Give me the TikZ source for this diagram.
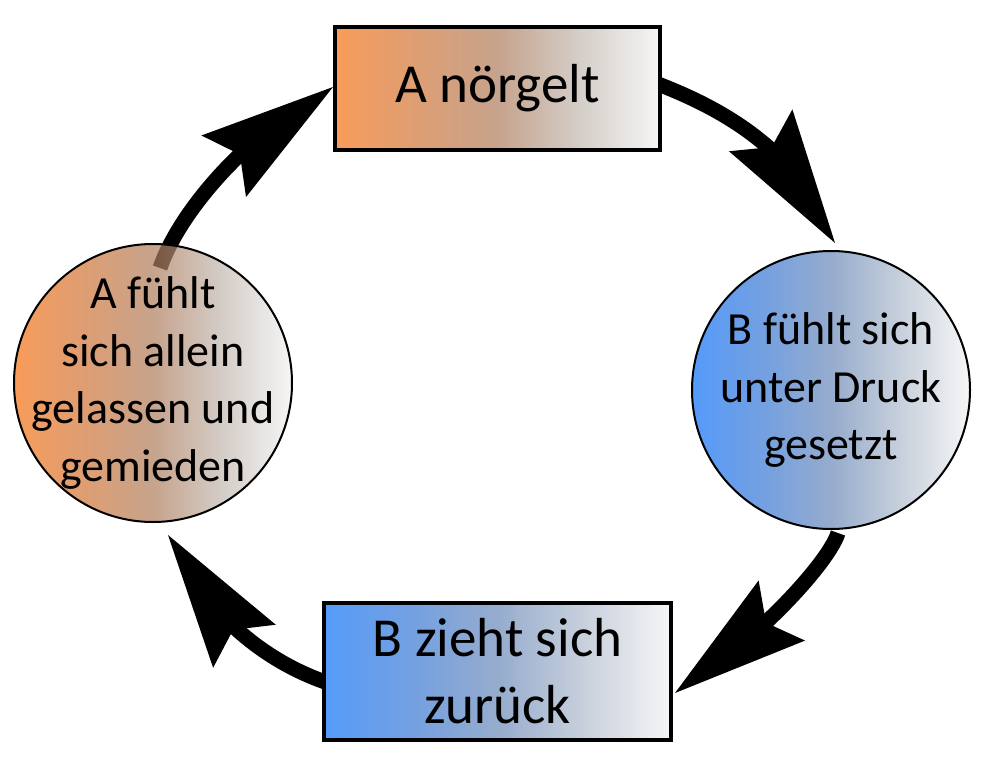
\documentclass[tikz,border=0pt]{standalone}
\usepackage{fontspec}
\setmainfont{Carlito}
\usetikzlibrary{arrows.meta,bending,calc}
\definecolor{orA}{RGB}{248,156,90}
\definecolor{orB}{RGB}{222,158,115}
\definecolor{orM}{RGB}{198,163,140}
\definecolor{orD}{RGB}{212,205,200}
\definecolor{grW}{RGB}{246,246,246}
\definecolor{blA}{RGB}{85,155,250}
\definecolor{blB}{RGB}{115,160,225}
\definecolor{blM}{RGB}{150,172,205}
\definecolor{blD}{RGB}{200,208,220}
\definecolor{orAc}{RGB}{245,114,19}
\definecolor{orBc}{RGB}{208,116,55}
\definecolor{orMc}{RGB}{174,124,91}
\definecolor{orDc}{RGB}{194,184,176}
\definecolor{grWc}{RGB}{242,242,242}
\definecolor{blAc}{RGB}{12,112,248}
\definecolor{blBc}{RGB}{55,119,212}
\definecolor{blMc}{RGB}{105,136,184}
\definecolor{blDc}{RGB}{176,188,205}
\pgfdeclarehorizontalshading{orbox}{100bp}{color(0bp)=(orA); color(25bp)=(orA); color(37.5bp)=(orB); color(50bp)=(orM); color(62.5bp)=(orD); color(75bp)=(grW); color(100bp)=(grW)}
\pgfdeclarehorizontalshading{blbox}{100bp}{color(0bp)=(blA); color(25bp)=(blA); color(37.5bp)=(blB); color(50bp)=(blM); color(62.5bp)=(blD); color(75bp)=(grW); color(100bp)=(grW)}
\pgfdeclarehorizontalshading{ordisc}{100bp}{color(0bp)=(orAc); color(25bp)=(orAc); color(37.5bp)=(orBc); color(50bp)=(orMc); color(62.5bp)=(orDc); color(75bp)=(grWc); color(100bp)=(grWc)}
\pgfdeclarehorizontalshading{bldisc}{100bp}{color(0bp)=(blAc); color(25bp)=(blAc); color(37.5bp)=(blBc); color(50bp)=(blMc); color(62.5bp)=(blDc); color(75bp)=(grWc); color(100bp)=(grWc)}
\pgfdeclarelayer{bg}
\pgfsetlayers{bg,main}
\begin{document}
\begin{tikzpicture}[x=1pt,y=-1pt,
  box/.style={draw, line width=4pt, shade, align=center, inner sep=0pt,
    font=\fontsize{55}{67}\selectfont},
  disc/.style={circle, draw, line width=2pt, minimum size=278pt, shade,
    fill opacity=0.7, draw opacity=1, text opacity=1, inner sep=0pt},
  disctext/.style={align=center, inner sep=0pt, font=\fontsize{46}{57.5}\selectfont},
  loop/.style={line width=15pt,
    -{Stealth[length=135pt,width=76pt,inset=20pt,line width=0pt,flex]}}]
\useasboundingbox (0,0) rectangle (983,768);
\node[box, shading=orbox, minimum width=325pt, minimum height=123pt] (top) at (497.5,88.5) {A nörgelt};
\node[box, shading=blbox, minimum width=347pt, minimum height=137pt] (bb) at (497.5,671.5) {B zieht sich\\zurück};
\node[disc, shading=bldisc] (rc) at (831,390) {};
\node[disctext] (rct) at (rc.center) {B fühlt sich\\unter Druck\\gesetzt};
\node[disc, shading=ordisc] (lc) at (153,383) {};
\node[disctext] (lct) at (lc.center) {A fühlt\\sich allein\\gelassen und\\gemieden};
\begin{pgfonlayer}{bg}
\draw[loop] ($(top.east)+(-4,-4.5)$) .. controls +(62,24) and +(-35,-93) .. ($(rc.north)+(4,-7)$);
\draw[loop] ($(rc.south)+(7,3)$) .. controls +(-8,27) and +(85,-53) .. ($(bb.east)+(2,21.5)$);
\draw[loop] ($(bb.west)+(6,11.5)$) .. controls +(-38,-13) and +(47,100) .. ($(lc.south)+(15,12)$);
\draw[loop] ($(lc.north)+(7,25)$) .. controls +(20,-58) and +(-83,43) .. ($(top.west)+(0,-1.5)$);
\end{pgfonlayer}
\end{tikzpicture}
\end{document}
